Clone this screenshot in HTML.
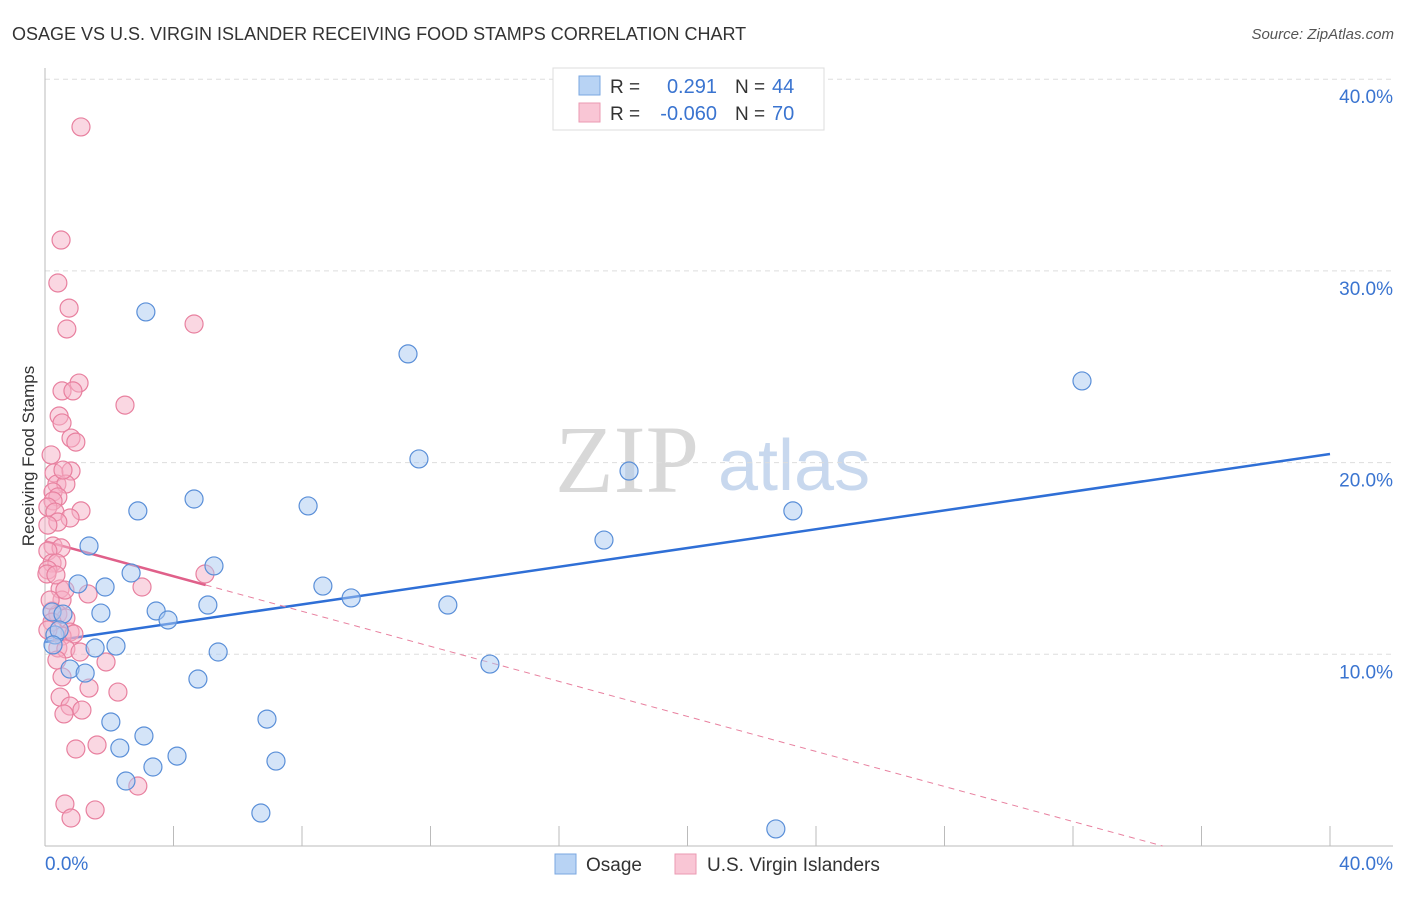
<!DOCTYPE html>
<html><head><meta charset="utf-8"><style>
body{margin:0;background:#fff;font-family:"Liberation Sans",sans-serif;}
</style></head><body>
<svg id="chart" width="1406" height="892" xmlns="http://www.w3.org/2000/svg">
<text x="12" y="40" font-size="18" fill="#333">OSAGE VS U.S. VIRGIN ISLANDER RECEIVING FOOD STAMPS CORRELATION CHART</text>
<text x="1394" y="39" font-size="15" fill="#555" text-anchor="end" font-style="italic">Source: ZipAtlas.com</text>
<text x="555" y="492" font-size="96" fill="#d8d8d8" font-family="Liberation Serif,serif">ZIP</text>
<text x="718" y="490" font-size="72" fill="#c8d8ee">atlas</text>
<g id="grid"></g>
<g id="axes"></g>
<g id="trend"></g>
<g id="pts"></g>
<text transform="translate(34,456) rotate(-90)" font-size="17" fill="#333" text-anchor="middle">Receiving Food Stamps</text>
<g>
<rect x="553" y="68" width="271" height="62" fill="#fff" stroke="#ddd"/>
<rect x="579" y="76" width="21" height="19" fill="#b8d3f4" stroke="#7aa7e0"/>
<rect x="579" y="103" width="21" height="19" fill="#f9c6d5" stroke="#eb9ab2"/>
<text x="610" y="93" font-size="19" fill="#333">R =</text>
<text x="717" y="93" font-size="20" fill="#3a74d0" text-anchor="end">0.291</text>
<text x="735" y="93" font-size="19" fill="#333">N =</text>
<text x="772" y="93" font-size="20" fill="#3a74d0">44</text>
<text x="610" y="120" font-size="19" fill="#333">R =</text>
<text x="717" y="120" font-size="20" fill="#3a74d0" text-anchor="end">-0.060</text>
<text x="735" y="120" font-size="19" fill="#333">N =</text>
<text x="772" y="120" font-size="20" fill="#3a74d0">70</text>
</g>
<g>
<rect x="555" y="854" width="21" height="20" fill="#b8d3f4" stroke="#7aa7e0"/>
<text x="586" y="871" font-size="19" fill="#333">Osage</text>
<rect x="675" y="854" width="21" height="20" fill="#f9c6d5" stroke="#eb9ab2"/>
<text x="707" y="871" font-size="19" fill="#333">U.S. Virgin Islanders</text>
</g>
</svg>
<script>
const blueX=[3.14,11.30,32.28,11.64,18.18,4.64,2.89,8.19,23.28,17.40,1.37,5.26,2.68,1.03,1.87,8.65,9.53,5.07,12.54,1.74,3.46,3.83,0.22,0.56,0.31,0.44,0.25,1.56,2.21,5.39,0.78,1.25,13.85,4.76,2.05,6.91,3.08,2.33,4.11,3.36,7.19,2.52,6.72,22.75];
const blueY=[27.86,25.67,24.26,20.19,19.56,18.10,17.48,17.74,17.48,15.96,15.65,14.61,14.24,13.67,13.51,13.56,12.94,12.57,12.57,12.15,12.26,11.79,12.21,12.10,11.01,11.27,10.49,10.33,10.43,10.12,9.23,9.02,9.49,8.71,6.47,6.62,5.74,5.11,4.69,4.12,4.43,3.39,1.72,0.89];
const pinkX=[1.12,0.50,0.40,0.75,0.68,4.64,1.06,0.53,0.87,2.49,0.44,0.53,0.81,0.96,0.28,0.81,0.37,0.65,0.25,0.40,0.25,0.09,1.12,0.31,0.78,0.40,0.09,0.25,0.50,0.09,0.22,0.37,0.09,0.06,4.98,3.02,0.47,1.34,0.53,0.22,0.40,0.65,0.22,0.78,0.53,0.90,0.09,0.40,0.65,1.09,1.90,0.53,1.37,2.27,0.47,0.78,1.15,0.59,1.62,0.96,2.89,0.62,1.56,0.81,0.34,0.16,0.37,0.62,0.19,0.56];
const pinkY=[37.51,31.61,29.37,28.06,26.97,27.23,24.15,23.74,23.74,23.00,22.43,22.07,21.28,21.07,19.46,19.56,18.88,18.88,18.47,18.21,18.00,17.68,17.48,17.42,17.11,16.90,16.74,15.65,15.55,15.39,14.76,14.76,14.40,14.19,14.19,13.51,13.41,13.15,12.83,12.26,12.10,11.89,11.68,11.16,10.95,11.06,11.27,10.33,10.28,10.12,9.60,8.82,8.24,8.03,7.77,7.30,7.09,6.89,5.27,5.06,3.13,2.19,1.88,1.46,14.14,12.83,9.70,13.35,20.40,19.61];
const yTicks=[10,20,30,40];
const yTickLabels=["10.0%","20.0%","30.0%","40.0%"];
const xTicks=[0,4,8,12,16,20,24,28,32,36,40];
const blueTrend=[10.64,20.45];
const pinkTrend=[15.9,-0.457];
const NS="http://www.w3.org/2000/svg";
const sx=v=>45+v*32.125, sy=v=>846-v*19.17;
function mk(tag,attrs,parent){const e=document.createElementNS(NS,tag);for(const k in attrs)e.setAttribute(k,attrs[k]);document.getElementById(parent).appendChild(e);return e;}
yTicks.forEach((t,i)=>{
 const g=mk('line',{x1:45,x2:1393,y1:sy(t),y2:sy(t),stroke:'#ddd','stroke-dasharray':'5,4'},'grid');
 
 
 const l=mk('text',{x:1393,y:sy(t)+24,'font-size':19,fill:'#3a74d0','text-anchor':'end'},'grid');
 l.textContent=yTickLabels[i];
 
 
});
const ya=mk('line',{x1:45,x2:45,y1:68,y2:846,stroke:'#bbb'},'axes');


const xa=mk('line',{x1:45,x2:1393,y1:846,y2:846,stroke:'#bbb'},'axes');


xTicks.forEach(t=>{
 const tk=mk('line',{x1:sx(t),x2:sx(t),y1:826,y2:846,stroke:'#bbb'},'axes');
 
 
});
const xl0=mk('text',{x:45,y:870,'font-size':19,fill:'#3a74d0'},'axes');xl0.textContent='0.0%';


const xl1=mk('text',{x:1393,y:870,'font-size':19,fill:'#3a74d0','text-anchor':'end'},'axes');xl1.textContent='40.0%';


function draw(xs,ys,fill,stroke,name){xs.forEach((x,i)=>{
 const c=mk('circle',{cx:sx(x),cy:sy(ys[i]),r:9,fill:fill,'fill-opacity':0.5,stroke:stroke,'stroke-width':1.2},'pts');
 
 
});}
draw(pinkX,pinkY,'#f5b0c5','#e8809f','point-virgin-islanders');
draw(blueX,blueY,'#a9c9f2','#5a8fd8','point-osage');
const bt=mk('line',{x1:sx(0),y1:sy(blueTrend[0]),x2:sx(40),y2:sy(blueTrend[1]),stroke:'#2f6fd6','stroke-width':2.5},'trend');


const pEnd=-pinkTrend[0]/pinkTrend[1];
const pd=mk('line',{x1:sx(5),y1:sy(pinkTrend[0]+5*pinkTrend[1]),x2:sx(pEnd),y2:sy(0),stroke:'#e8809f','stroke-width':1,'stroke-dasharray':'6,5'},'trend');


const ps=mk('line',{x1:sx(0),y1:sy(pinkTrend[0]),x2:sx(5),y2:sy(pinkTrend[0]+5*pinkTrend[1]),stroke:'#e0608a','stroke-width':2.5},'trend');


</script>
</body></html>
